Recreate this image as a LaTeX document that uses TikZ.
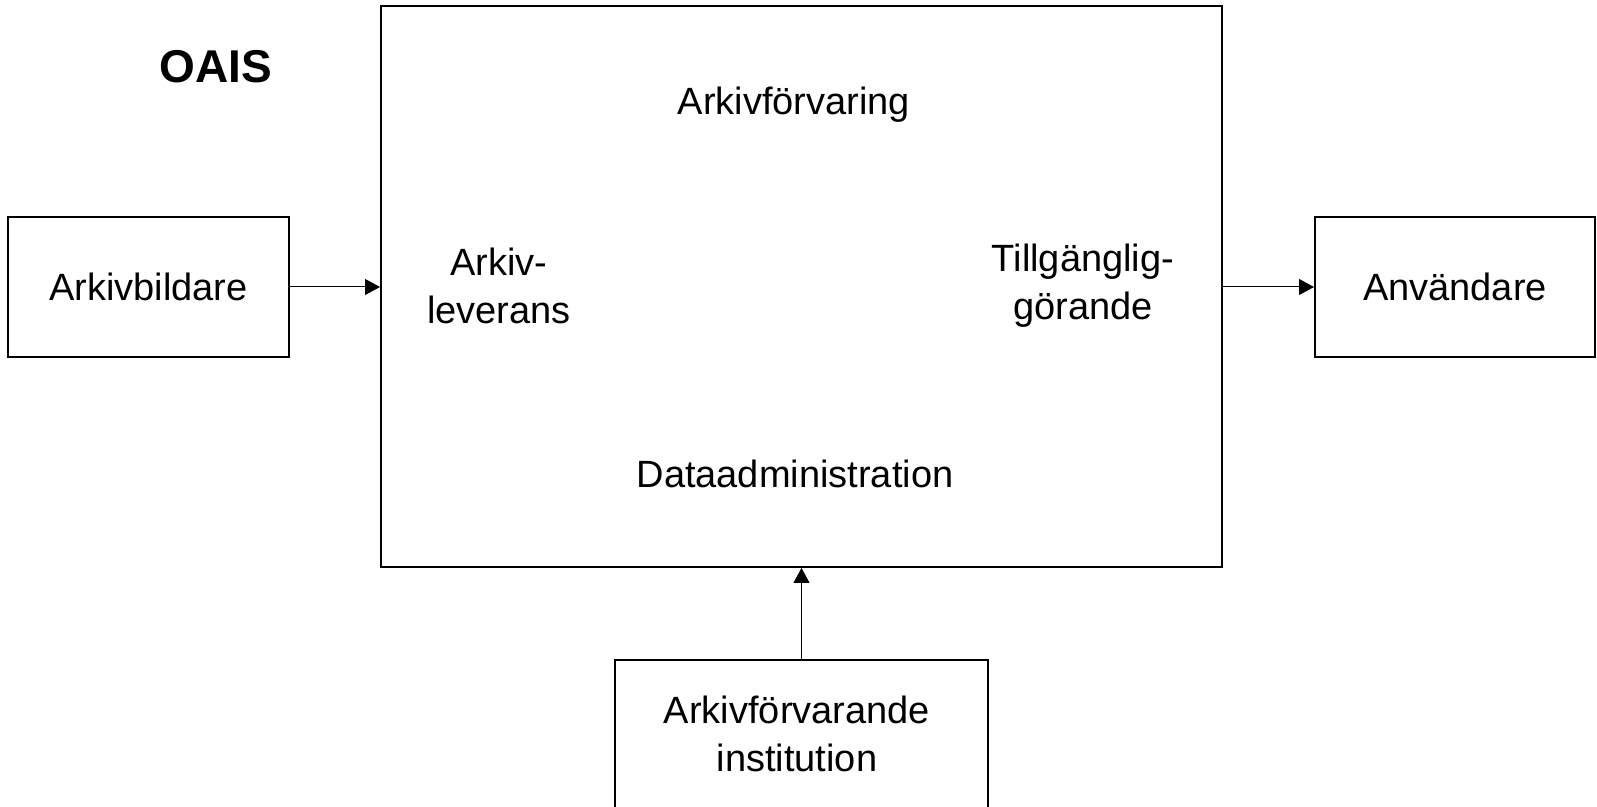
\documentclass[tikz,border=0pt]{standalone}
\usepackage{fontspec}
\setmainfont{Liberation Sans}
\usetikzlibrary{arrows.meta}
\begin{document}
\begin{tikzpicture}[x=0.5pt,y=-0.5pt,
  box/.style={draw=black, line width=1pt, rectangle, inner sep=0pt},
  lbl/.style={align=center, font=\fontsize{19}{24}\selectfont, inner sep=0pt},
  arr/.style={line width=0.5pt, -{Triangle[length=7.5pt,width=8pt]}}]
\useasboundingbox (0,0) rectangle (1597,807);
\node[box, minimum width=420.5pt, minimum height=280.5pt] (main) at (801.5,286.5) {};
\node[box, minimum width=140.5pt, minimum height=70pt, lbl] (ab) at (148.5,287) {Arkivbildare};
\node[box, minimum width=140pt, minimum height=70pt, lbl] (anv) at (1455,287) {Användare};
\node[box, minimum width=186.5pt, minimum height=76pt] (inst) at (801.5,736) {};
\node[lbl] (insttext) at (797,734) {Arkivförvarande\\institution};
\node[lbl, font=\fontsize{23}{28}\selectfont\bfseries] (oais) at (216,67) {OAIS};
\node[lbl] (forv) at (794,105) {Arkivförvaring};
\node[lbl] (lev) at (499,286) {Arkiv-\\leverans};
\node[lbl] (tillg) at (1083,286) {Tillgänglig-\\görande};
\node[lbl] (data) at (795,474) {Dataadministration};
\draw[arr] (ab.east) -- (ab.east -| main.west);
\draw[arr] (anv.west -| main.east) -- (anv.west);
\draw[arr] (inst.north) -- (main.south);
\end{tikzpicture}
\end{document}
